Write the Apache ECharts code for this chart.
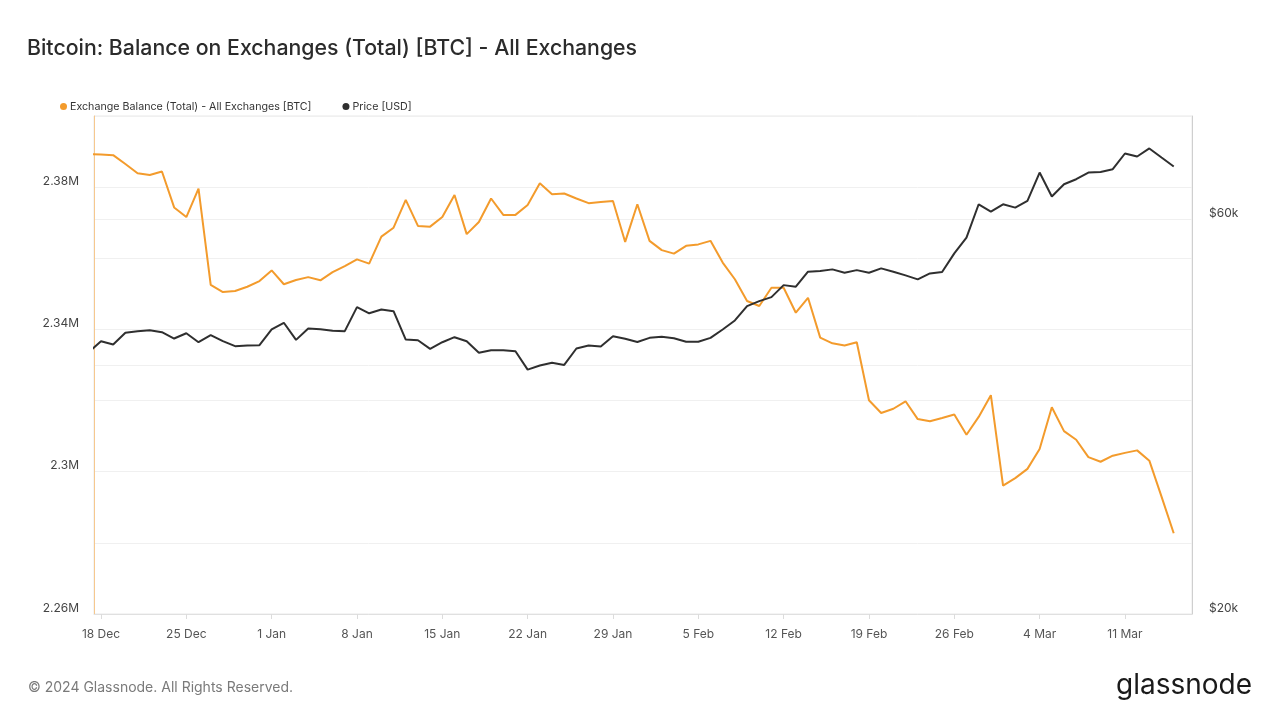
<!DOCTYPE html>
<html>
<head>
<meta charset="utf-8">
<script src="https://cdn.jsdelivr.net/npm/echarts@6/dist/echarts.min.js"></script>
<style>
html,body{margin:0;padding:0;background:#fff;}
#chart{width:1280px;height:720px;}
</style>
</head>
<body>
<div id="chart"></div>
<script>
// ---- Data ----
const titleText = 'Bitcoin: Balance on Exchanges (Total) [BTC] - All Exchanges';
const seriesNames = ['Exchange Balance (Total) - All Exchanges [BTC]', 'Price [USD]'];
const startDate = [2023, 11, 17]; // 17 Dec 2023, daily points
const balance = [
  2389300, 2389200, 2389000, 2386500, 2383900, 2383400, 2384400, 2374300, 2371600, 2379600,
  2352500, 2350500, 2350800, 2352000, 2353600, 2356600, 2352700, 2353900, 2354700, 2353800,
  2356100, 2357800, 2359700, 2358500, 2366100, 2368600, 2376400, 2369100, 2368900, 2371600,
  2377800, 2366800, 2370200, 2376800, 2372200, 2372200, 2375000, 2381100, 2378000, 2378200,
  2376800, 2375500, 2375800, 2376100, 2364600, 2375200, 2364900, 2362300, 2361300, 2363500,
  2363900, 2364900, 2358800, 2354100, 2348000, 2346600, 2351700, 2351700, 2344700, 2348900,
  2337700, 2336100, 2335500, 2336400, 2320100, 2316500, 2317700, 2319800, 2314800, 2314200,
  2315100, 2316100, 2310400, 2315400, 2321500, 2296100, 2298200, 2300800, 2306400, 2318100,
  2311400, 2309000, 2304100, 2302800, 2304500, 2305300, 2306000, 2303100, 2293000, 2282700
];
const price = [
  41470, 42740, 42350, 43750, 43950, 44070, 43820, 43060, 43700, 42620,
  43460, 42740, 42150, 42230, 42270, 44160, 44990, 42900, 44280, 44190,
  43990, 43950, 46990, 46190, 46680, 46470, 42940, 42860, 41840, 42620,
  43220, 42740, 41380, 41680, 41680, 41560, 39490, 39940, 40240, 40010,
  41880, 42230, 42110, 43340, 43030, 42640, 43140, 43260, 43100, 42670,
  42670, 43140, 44160, 45280, 47120, 47780, 48320, 49960, 49740, 51860,
  51950, 52200, 51720, 52090, 51720, 52340, 51860, 51330, 50760, 51620,
  51810, 54580, 57020, 62570, 61310, 62570, 61990, 63150, 68350, 63930,
  66160, 67090, 68350, 68470, 68990, 72070, 71470, 73090, 71270, 69510
];
const xTickDates = [
  [2023,11,18],[2023,11,25],[2024,0,1],[2024,0,8],[2024,0,15],[2024,0,22],[2024,0,29],
  [2024,1,5],[2024,1,12],[2024,1,19],[2024,1,26],[2024,2,4],[2024,2,11]
];
const leftTicks = [2260000, 2300000, 2340000, 2380000];
const rightGridValues = [20000, 40000, 60000];
const rightLabelValues = [20000, 60000];
const monthNames = ['Jan','Feb','Mar','Apr','May','Jun','Jul','Aug','Sep','Oct','Nov','Dec'];

// ---- Build ----
const DAY = 86400000;
const dates = balance.map((_, i) => new Date(startDate[0], startDate[1], startDate[2] + i).getTime());
const xTicks = xTickDates.map(d => new Date(d[0], d[1], d[2]).getTime());
const xMin = xTicks[0] - 0.574 * DAY;
const xMax = xTicks[0] + 89.5 * DAY;

const FONT = 'Inter, "Noto Sans", sans-serif';
const chart = echarts.init(document.getElementById('chart'));
chart.setOption({
  animation: false,
  backgroundColor: '#ffffff',
  textStyle: { fontFamily: FONT },
  title: {
    text: titleText,
    left: 22, top: 33,
    textStyle: { fontFamily: FONT, fontSize: 21.3, fontWeight: 500, color: '#2b2b2b' }
  },
  legend: {
    left: 55, top: 96,
    icon: 'circle',
    itemWidth: 7, itemHeight: 7, itemGap: 31,
    textStyle: { fontFamily: FONT, fontSize: 10.7, color: '#333', padding: [0, 0, 0, -2] },
    data: seriesNames
  },
  grid: {
    left: 94, right: 88, top: 116, bottom: 106,
    show: true, borderColor: '#e8e8e8', borderWidth: 1,
    containLabel: false
  },
  xAxis: {
    type: 'value',
    min: xMin, max: xMax,
    axisLine: { show: true, lineStyle: { color: '#e0e0e0' } },
    axisTick: { show: true, length: 5, lineStyle: { color: '#dcdcdc' }, customValues: xTicks },
    splitLine: { show: false },
    axisLabel: {
      customValues: xTicks,
      margin: 14,
      fontFamily: FONT, fontSize: 12, color: '#555',
      formatter: v => { const d = new Date(v); return d.getDate() + ' ' + monthNames[d.getMonth()]; }
    }
  },
  yAxis: [
    {
      type: 'value',
      min: 2260000, max: 2400000, interval: 20000,
      position: 'left',
      axisLine: { show: true, lineStyle: { color: '#f6c88e', width: 1 } },
      axisTick: { show: false },
      splitLine: { show: true, lineStyle: { color: '#f0f0f0', width: 1 } },
      axisLabel: {
        margin: 15,
        fontFamily: FONT, fontSize: 12, color: '#444',
        verticalAlign: 'bottom',
        formatter: v => leftTicks.indexOf(Math.round(v)) >= 0 ? parseFloat((v / 1e6).toFixed(2)) + 'M' : ''
      }
    },
    {
      type: 'log',
      logBase: 10,
      min: 20000, max: 80000,
      position: 'right',
      axisLine: { show: true, lineStyle: { color: '#cfcfcf', width: 1 } },
      axisTick: { show: false, customValues: rightGridValues },
      splitLine: { show: true, lineStyle: { color: '#f0f0f0', width: 1 } },
      axisLabel: {
        customValues: rightLabelValues,
        margin: 17,
        fontFamily: FONT, fontSize: 12, color: '#444',
        verticalAlign: 'bottom',
        formatter: v => '$' + Math.round(v / 1000) + 'k'
      }
    }
  ],
  series: [
    {
      name: seriesNames[0], type: 'line', yAxisIndex: 0,
      data: dates.map((d, i) => [d, balance[i]]),
      showSymbol: false, symbol: 'circle',
      itemStyle: { color: '#f39b2c' },
      lineStyle: { color: '#f39b2c', width: 2 },
      z: 3
    },
    {
      name: seriesNames[1], type: 'line', yAxisIndex: 1,
      data: dates.map((d, i) => [d, price[i]]),
      showSymbol: false, symbol: 'circle',
      itemStyle: { color: '#2f2f2f' },
      lineStyle: { color: '#2f2f2f', width: 2 },
      z: 4
    }
  ],
  graphic: [
    {
      type: 'text', left: 28, top: 681,
      style: { text: '© 2024 Glassnode. All Rights Reserved.', fontFamily: FONT, fontSize: 14, fill: '#7a7a7a' }
    },
    {
      type: 'text', right: 28, top: 672,
      style: { text: 'glassnode', fontFamily: FONT, fontSize: 28, fontWeight: 400, fill: '#1a1a1a' }
    }
  ]
});
</script>
</body>
</html>
